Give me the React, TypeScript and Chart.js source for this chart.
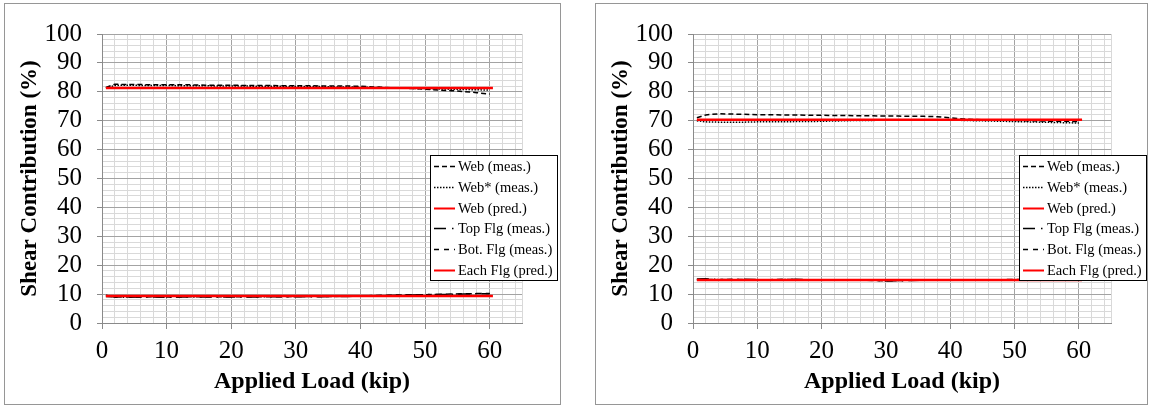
import React, { useEffect, useRef } from 'react';
import { Chart, registerables } from 'chart.js';

Chart.register(...registerables);

// ---------- data ----------
const loads = [0.6, 2, 4, 6, 8, 10, 12, 14, 16, 18, 20, 22, 24, 26, 28, 30, 32, 34, 36, 38, 40, 42, 44, 46, 48, 50, 52, 54, 56, 58, 60];
const predLoads = [0.6, 60.5];

const seriesLabels = ['Web (meas.)', 'Web* (meas.)', 'Web (pred.)', 'Top Flg (meas.)', 'Bot. Flg (meas.)', 'Each Flg (pred.)'];

// left chart
const leftWebMeas = [81.5, 82.6, 82.5, 82.5, 82.4, 82.4, 82.4, 82.4, 82.3, 82.3, 82.3, 82.2, 82.2, 82.2, 82.1, 82.1, 82.1, 82.0, 82.0, 82.0, 81.9, 81.7, 81.5, 81.3, 81.1, 80.9, 80.6, 80.4, 80.1, 79.7, 79.2];
const leftWebStarMeas = [81.3, 82.2, 82.3, 82.2, 82.2, 82.2, 82.1, 82.1, 82.1, 82.0, 82.0, 82.0, 81.9, 81.9, 81.9, 81.8, 81.8, 81.8, 81.7, 81.7, 81.6, 81.5, 81.4, 81.3, 81.2, 81.1, 81.0, 80.9, 80.8, 80.7, 80.6];
const leftWebPred = [81.3, 81.3];
const leftTopFlgMeas = [9.6, 8.9, 8.9, 9.0, 9.0, 8.9, 9.0, 9.0, 9.0, 9.0, 9.0, 9.0, 9.0, 9.1, 9.1, 9.1, 9.1, 9.1, 9.2, 9.2, 9.3, 9.4, 9.5, 9.6, 9.7, 9.8, 9.9, 9.9, 10.0, 10.1, 10.1];
const leftBotFlgMeas = [9.2, 9.0, 9.0, 9.0, 9.1, 9.0, 9.0, 9.1, 9.1, 9.1, 9.1, 9.1, 9.1, 9.1, 9.1, 9.2, 9.2, 9.2, 9.2, 9.3, 9.3, 9.5, 9.6, 9.7, 9.8, 9.8, 9.9, 10.0, 10.1, 10.2, 10.2];
const leftFlgPred = [9.35, 9.35];

// right chart
const rightWebMeas = [71.0, 72.0, 72.4, 72.3, 72.2, 72.1, 72.1, 72.0, 72.0, 71.9, 71.9, 71.8, 71.8, 71.7, 71.7, 71.6, 71.6, 71.5, 71.5, 71.4, 71.0, 70.6, 70.4, 70.3, 70.2, 70.1, 70.0, 69.9, 69.8, 69.8, 69.7];
const rightWebStarMeas = [70.0, 69.6, 69.5, 69.5, 69.5, 69.6, 69.6, 69.6, 69.7, 69.7, 69.8, 69.9, 70.0, 70.1, 70.1, 70.2, 70.3, 70.3, 70.3, 70.3, 70.2, 70.1, 70.0, 69.9, 69.8, 69.7, 69.6, 69.5, 69.4, 69.3, 69.2];
const rightWebPred = [70.3, 70.3];
const rightTopFlgMeas = [15.2, 15.3, 15.1, 15.0, 15.1, 15.0, 14.9, 15.0, 15.1, 15.0, 14.9, 14.8, 14.9, 15.0, 14.8, 14.5, 14.6, 14.7, 14.8, 14.9, 14.9, 15.0, 14.9, 15.0, 14.9, 15.0, 15.1, 15.0, 15.2, 15.1, 15.0];
const rightBotFlgMeas = [15.0, 15.1, 15.0, 15.1, 15.0, 14.9, 15.0, 15.1, 15.0, 14.9, 14.8, 14.9, 15.0, 14.9, 14.7, 14.6, 14.7, 14.8, 14.9, 14.8, 14.9, 14.9, 15.0, 14.9, 15.0, 15.1, 15.0, 15.1, 15.0, 15.2, 15.1];
const rightFlgPred = [14.85, 14.85];

// axes
const xMin = 0;
const xMax = 65;
const xMinorStep = 2;
const xTickLabels = [0, 10, 20, 30, 40, 50, 60];
const yMin = 0;
const yMax = 100;
const yMinorStep = 2;
const yTickLabels = [0, 10, 20, 30, 40, 50, 60, 70, 80, 90, 100];

const xTitle = 'Applied Load (kip)';
const yTitle = 'Shear Contribution (%)';

// ---------- helpers ----------
function gridValues(min: number, max: number, step: number): number[] {
  const out: number[] = [];
  for (let v = min; v <= max + 1e-9; v += step) out.push(Math.round(v * 1000) / 1000);
  if (out[out.length - 1] !== max) out.push(max);
  return out;
}

const FONT = "'Liberation Serif', 'Times New Roman', serif";
const MAJOR_GRID = '#a3a3a3';
const MINOR_GRID = '#d9d9d9';
const AXIS = '#8a8a8a';

const boxLegend = {
  id: 'boxLegend',
  afterDraw(chart: any, _args: any, opts: any) {
    const { ctx, chartArea: ca } = chart;
    const left = Math.round(ca.right + opts.dx);
    const top = Math.round(ca.top + opts.dy);
    ctx.save();
    ctx.fillStyle = '#ffffff';
    ctx.fillRect(left, top, opts.width, opts.height);
    ctx.strokeStyle = '#000000';
    ctx.lineWidth = 1;
    ctx.setLineDash([]);
    ctx.strokeRect(left + 0.5, top + 0.5, opts.width, opts.height);
    ctx.font = `${opts.fontSize}px ${FONT}`;
    ctx.textBaseline = 'middle';
    ctx.textAlign = 'left';
    chart.data.datasets.forEach((ds: any, i: number) => {
      const y = Math.round(top + opts.firstY + i * opts.rowH) + 0.5;
      ctx.strokeStyle = ds.borderColor;
      ctx.lineWidth = ds.legendLineWidth || ds.borderWidth;
      ctx.setLineDash(ds.legendDash || ds.borderDash || []);
      ctx.beginPath();
      ctx.moveTo(left + opts.sampleX, y);
      ctx.lineTo(left + opts.sampleX + opts.sampleW, y);
      ctx.stroke();
      ctx.setLineDash([]);
      ctx.fillStyle = '#000000';
      ctx.fillText(ds.label, left + opts.textX, y + 0.5);
    });
    ctx.restore();
  },
};

type PanelProps = {
  left: number;
  width: number;
  padRight: number;
  webMeas: number[];
  webStarMeas: number[];
  webPred: number[];
  topFlgMeas: number[];
  botFlgMeas: number[];
  flgPred: number[];
};

const FRAME_TOP = 3;
const FRAME_HEIGHT = 402;

function Panel(props: PanelProps) {
  const ref = useRef<HTMLCanvasElement | null>(null);
  const cw = props.width - 2;
  const ch = FRAME_HEIGHT - 2;

  useEffect(() => {
    if (!ref.current) return;
    const pts = (xs: number[], ys: number[]) => xs.map((x, i) => ({ x, y: ys[i] }));
    const meas = (label: string, ys: number[], dash: number[], legendDash?: number[]) => ({
      label,
      data: pts(loads, ys),
      borderColor: '#000000',
      backgroundColor: '#000000',
      borderWidth: 1.5,
      borderDash: dash,
      legendDash,
      pointRadius: 0,
      tension: 0,
      fill: false,
      order: 1,
    });
    const pred = (label: string, ys: number[]) => ({
      label,
      data: pts(predLoads, ys),
      borderColor: '#ff0000',
      backgroundColor: '#ff0000',
      borderWidth: 2.5,
      legendLineWidth: 2,
      borderDash: [],
      pointRadius: 0,
      fill: false,
      order: 0,
    });
    const xGrid = gridValues(xMin, xMax, xMinorStep);
    const yGrid = gridValues(yMin, yMax, yMinorStep);

    const chart = new Chart(ref.current, {
      type: 'line',
      data: {
        datasets: [
          meas(seriesLabels[0], props.webMeas, [5, 3]),
          meas(seriesLabels[1], props.webStarMeas, [1.5, 1.5]),
          pred(seriesLabels[2], props.webPred),
          meas(seriesLabels[3], props.topFlgMeas, [12, 5, 1.5, 5], [12, 6, 1.5, 8]),
          meas(seriesLabels[4], props.botFlgMeas, [6, 4], [5, 5]),
          pred(seriesLabels[5], props.flgPred),
        ] as any,
      },
      options: {
        animation: false,
        responsive: false,
        maintainAspectRatio: false,
        layout: { padding: { top: 17, right: props.padRight, left: 0, bottom: 0 } },
        plugins: {
          legend: { display: false },
          tooltip: { enabled: false },
          boxLegend: {
            dx: -92,
            dy: 121,
            width: 127,
            height: 125,
            firstY: 11,
            rowH: 20.8,
            sampleX: 4,
            sampleW: 21,
            textX: 28,
            fontSize: 14.5,
          },
        } as any,
        scales: {
          x: {
            type: 'linear',
            min: xMin,
            max: xMax,
            afterBuildTicks: (s: any) => {
              s.ticks = xGrid.map((value) => ({ value }));
            },
            afterFit: (s: any) => {
              s.height = 81;
            },
            grid: {
              color: (c: any) => (xTickLabels.includes(c.tick?.value) ? MAJOR_GRID : MINOR_GRID),
              lineWidth: 1,
              drawTicks: true,
              tickLength: 6,
              tickColor: (c: any) => (xTickLabels.includes(c.tick?.value) ? AXIS : 'rgba(0,0,0,0)'),
            },
            border: { color: AXIS, width: 1 },
            ticks: {
              autoSkip: false,
              maxRotation: 0,
              minRotation: 0,
              color: '#000000',
              padding: 7,
              font: { family: FONT, size: 25 },
              callback: (v: any) => (xTickLabels.includes(Number(v)) ? String(v) : ''),
            },
            title: {
              display: true,
              text: xTitle,
              color: '#000000',
              font: { family: FONT, size: 24, weight: 'bold' },
              padding: { top: 0, bottom: 8 },
            },
          },
          y: {
            type: 'linear',
            min: yMin,
            max: yMax,
            afterBuildTicks: (s: any) => {
              s.ticks = yGrid.map((value) => ({ value }));
            },
            afterFit: (s: any) => {
              s.width = 97;
            },
            grid: {
              color: (c: any) => (yTickLabels.includes(c.tick?.value) ? MAJOR_GRID : MINOR_GRID),
              lineWidth: 1,
              drawTicks: true,
              tickLength: 5,
              tickColor: (c: any) => (yTickLabels.includes(c.tick?.value) ? AXIS : 'rgba(0,0,0,0)'),
            },
            border: { color: AXIS, width: 1 },
            ticks: {
              autoSkip: false,
              color: '#000000',
              padding: 15,
              font: { family: FONT, size: 25 },
              callback: (v: any) => (yTickLabels.includes(Number(v)) ? String(v) : ''),
            },
            title: {
              display: true,
              text: yTitle,
              color: '#000000',
              font: { family: FONT, size: 23, weight: 'bold' },
              padding: { top: 11, bottom: 0 },
            },
          },
        },
      } as any,
      plugins: [boxLegend],
    });
    return () => chart.destroy();
  }, []);

  return (
    <div
      style={{
        position: 'absolute',
        left: props.left,
        top: FRAME_TOP,
        width: props.width,
        height: FRAME_HEIGHT,
        border: '1px solid #969696',
        boxSizing: 'border-box',
        background: '#ffffff',
      }}
    >
      <canvas ref={ref} width={cw} height={ch} style={{ display: 'block', width: cw, height: ch }} />
    </div>
  );
}

export default function App() {
  return (
    <div style={{ position: 'fixed', left: 0, top: 0, width: 1149, height: 406, background: '#ffffff' }}>
      <Panel
        left={4}
        width={557}
        padRight={38}
        webMeas={leftWebMeas}
        webStarMeas={leftWebStarMeas}
        webPred={leftWebPred}
        topFlgMeas={leftTopFlgMeas}
        botFlgMeas={leftBotFlgMeas}
        flgPred={leftFlgPred}
      />
      <Panel
        left={595}
        width={553}
        padRight={36}
        webMeas={rightWebMeas}
        webStarMeas={rightWebStarMeas}
        webPred={rightWebPred}
        topFlgMeas={rightTopFlgMeas}
        botFlgMeas={rightBotFlgMeas}
        flgPred={rightFlgPred}
      />
    </div>
  );
}
